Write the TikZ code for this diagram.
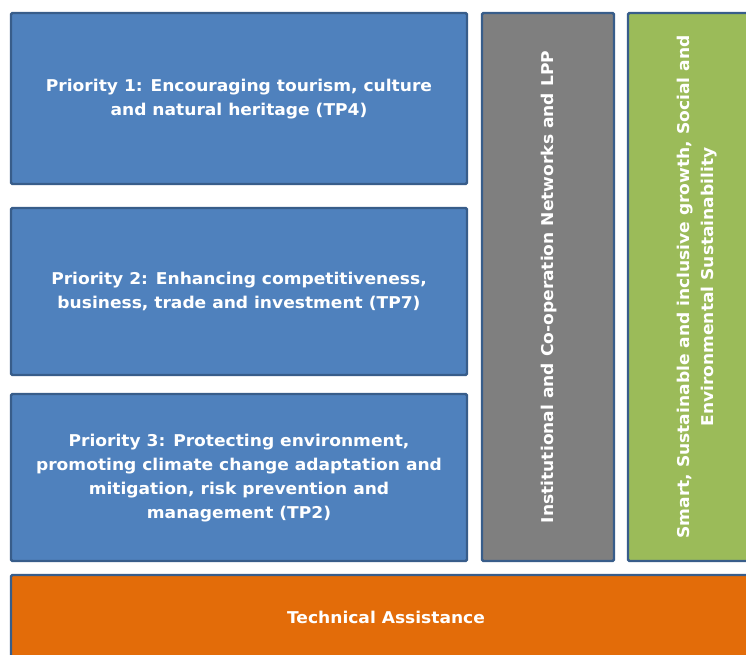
\documentclass[tikz,border=0pt]{standalone}
\usepackage{fontspec}
\setmainfont{DejaVu Sans}[FakeStretch=1.05]
\definecolor{pblue}{HTML}{4F81BD}
\definecolor{pedge}{HTML}{385D8A}
\definecolor{pgray}{HTML}{7F7F7F}
\definecolor{pgreen}{HTML}{9BBB59}
\definecolor{porange}{HTML}{E36C09}
\begin{document}
\begin{tikzpicture}[x=0.75pt,y=-0.75pt,
  box/.style={draw=pedge,line width=1.8pt,rounded corners=1pt},
  lbl/.style={text=white,font=\bfseries\fontsize{12.2}{18}\selectfont,align=center,inner sep=0pt}]
\useasboundingbox (0,0) rectangle (746,655);
\clip (0,0) rectangle (746,655);
\fill[white] (0,0) rectangle (746,655);
\draw[box,fill=pblue] (11,13) rectangle (467,184);
\node[lbl] (p1) at (239,99) {Priority 1: Encouraging tourism, culture\\and natural heritage (TP4)};
\draw[box,fill=pblue] (11,208) rectangle (467,375);
\node[lbl] (p2) at (239,291) {Priority 2: Enhancing competitiveness,\\business, trade and investment (TP7)};
\draw[box,fill=pblue] (11,394) rectangle (467,561);
\node[lbl] (p3) at (239,478) {Priority 3: Protecting environment,\\promoting climate change adaptation and\\mitigation, risk prevention and\\management (TP2)};
\draw[box,fill=pgray] (482,13) rectangle (614,561);
\node[lbl,rotate=90] (g) at (549,287) {Institutional and Co-operation Networks and LPP};
\draw[box,fill=pgreen] (628,13) rectangle (770,561);
\node[lbl,rotate=90] (s) at (697,287) {Smart, Sustainable and inclusive growth, Social and\\Environmental Sustainability};
\draw[box,fill=porange] (11,575) rectangle (770,680);
\node[lbl] (ta) at (386,617) {Technical Assistance};
\end{tikzpicture}
\end{document}
